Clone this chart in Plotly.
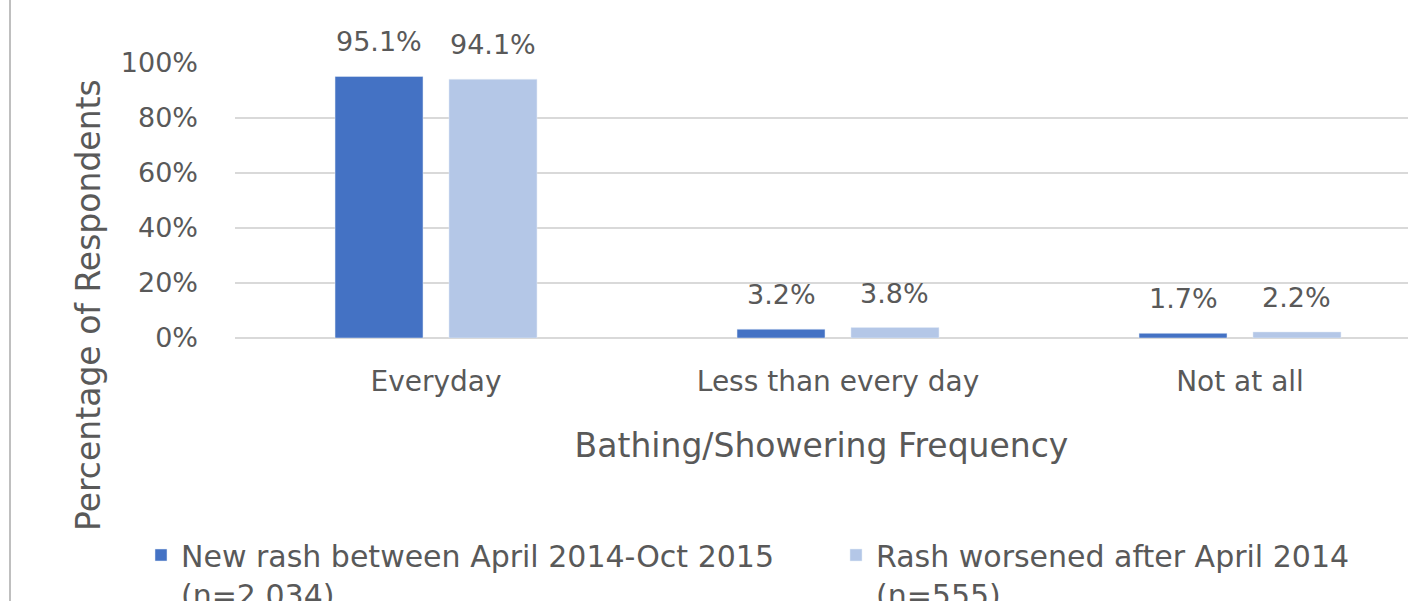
import plotly.graph_objects as go

categories = ["Everyday", "Less than every day", "Not at all"]
series_names = ["New rash between April 2014-Oct 2015<br>(n=2,034)",
                "Rash worsened after April 2014<br>(n=555)"]
new_rash = [95.1, 3.2, 1.7]
worsened = [94.1, 3.8, 2.2]
y_ticks = [0, 20, 40, 60, 80, 100]
y_tick_labels = ["0%", "20%", "40%", "60%", "80%", "100%"]
x_title = "Bathing/Showering Frequency"
y_title = "Percentage of Respondents"

DARK = "#4472C4"
LIGHT = "#B4C7E7"
TXT = "#595959"
FONT = "DejaVu Sans"

W, H = 1408, 601
ML, MT, MB, MR = 235, 63, 263, 0

fig = go.Figure()
fig.add_trace(go.Bar(x=categories, y=new_rash, name=series_names[0], marker_color=DARK))
fig.add_trace(go.Bar(x=categories, y=worsened, name=series_names[1], marker_color=LIGHT))

bargap = 0.433
plot_w = W - ML - MR
plot_h = H - MT - MB
x_range = [-0.5, -0.5 + plot_w / 402.0]
cat_px = plot_w / (x_range[1] - x_range[0])
half_slot = (1 - bargap) * cat_px / 4

for vals, sh in ((new_rash, -half_slot), (worsened, half_slot)):
    for c, v in zip(categories, vals):
        fig.add_annotation(x=c, y=v, text=f"{v:.1f}%", showarrow=False,
                           xshift=sh, yshift=17, yanchor="bottom",
                           font=dict(family=FONT, size=27, color=TXT))

# y-axis title, centred on the whole chart height as in the source
fig.add_annotation(xref="paper", yref="paper",
                   x=(88 - ML) / plot_w, y=(plot_h - (305 - MT)) / plot_h,
                   text=y_title, textangle=-90, showarrow=False,
                   xanchor="center", yanchor="middle",
                   font=dict(family=FONT, size=33, color=TXT))

# chart border on the left
bx = (10 - ML) / plot_w
fig.add_shape(type="line", xref="paper", yref="paper",
              x0=bx, x1=bx, y0=-2, y1=2, line=dict(color="#BFBFBF", width=2))

fig.update_layout(
    width=W, height=H,
    margin=dict(l=ML, r=MR, t=MT, b=MB, autoexpand=False),
    paper_bgcolor="white", plot_bgcolor="white",
    barmode="group", bargap=bargap, bargroupgap=0.228,
    font=dict(family=FONT, size=27, color=TXT),
    showlegend=True,
    legend=dict(orientation="h", x=(141 - ML) / plot_w, xanchor="left",
                y=(plot_h - (529 - MT)) / plot_h, yanchor="top",
                font=dict(family=FONT, size=30, color=TXT),
                entrywidth=650, valign="top", traceorder="normal",
                bgcolor="rgba(0,0,0,0)"),
)
fig.update_xaxes(range=x_range, showgrid=False, showline=False, zeroline=False,
                 ticks="", tickfont=dict(family=FONT, size=28, color=TXT),
                 ticklabelstandoff=24,
                 title=dict(text=x_title,
                            font=dict(family=FONT, size=33, color=TXT), standoff=36))
fig.update_yaxes(range=[0, 100], tickvals=y_ticks, ticktext=y_tick_labels,
                 showgrid=True, gridcolor="#D9D9D9", gridwidth=2,
                 zeroline=True, zerolinecolor="#D9D9D9", zerolinewidth=2,
                 showline=False, ticks="", ticklabelstandoff=36,
                 tickfont=dict(family=FONT, size=27, color=TXT))

fig.write_html("out.html", config={"displayModeBar": False},
               post_script="document.body.style.margin='0';document.body.style.overflow='hidden';")
